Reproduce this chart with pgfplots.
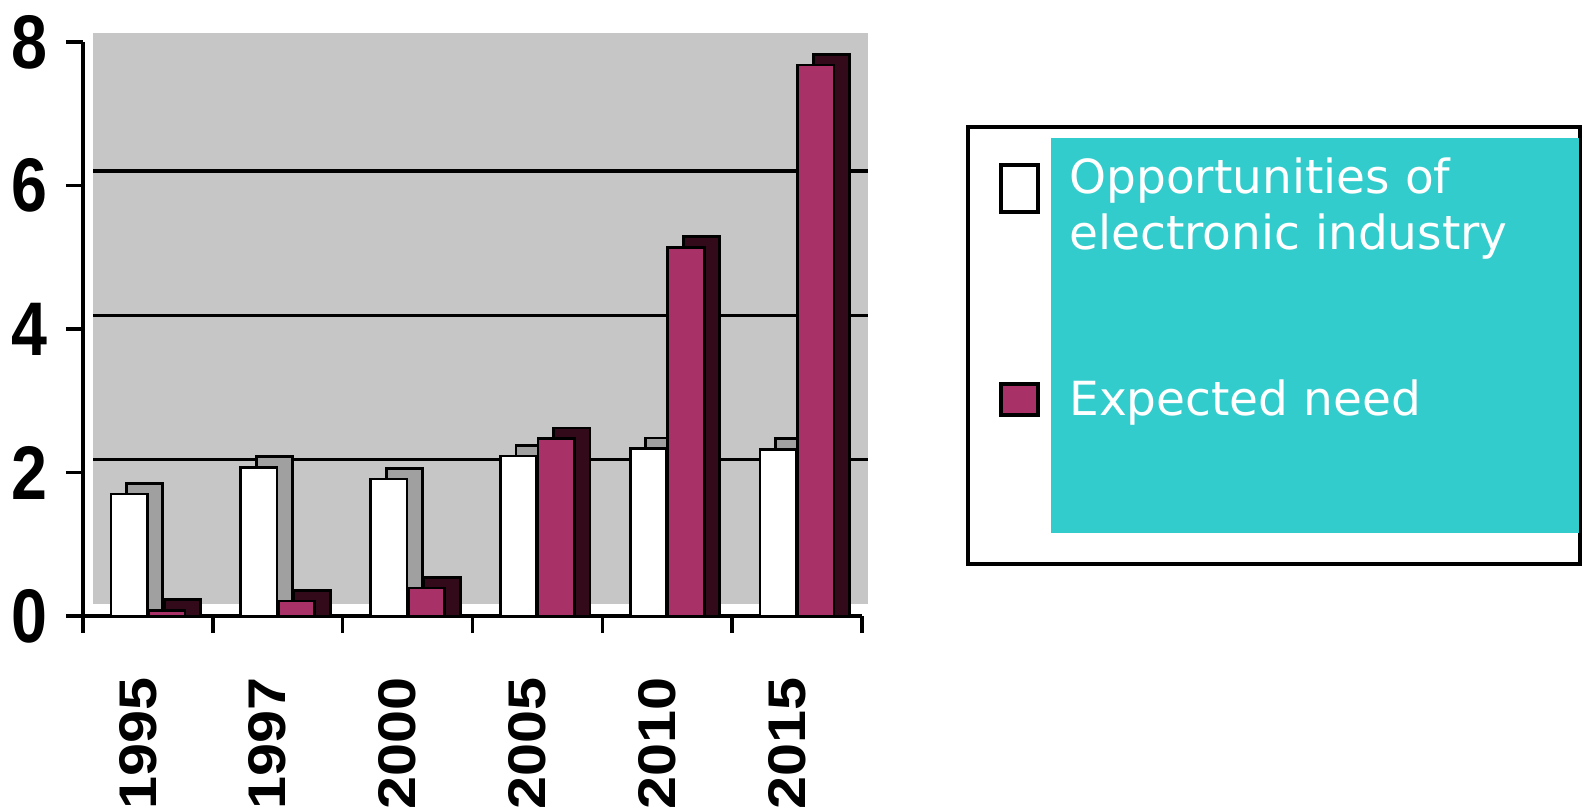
\documentclass[border=0pt]{standalone}
\usepackage{fontspec}
\setmainfont{Liberation Sans}
\newfontfamily\legfont{DejaVu Sans}
\usepackage{graphicx}
\usepackage{pgfplots}
\pgfplotsset{compat=1.18}
\usepackage{pgfplotstable}
\definecolor{wallgray}{RGB}{198,198,198}
\definecolor{maroonF}{RGB}{168,50,104}
\definecolor{maroonS}{RGB}{50,10,25}
\definecolor{whiteS}{RGB}{160,160,160}
\definecolor{cyanbox}{RGB}{51,204,204}

\pgfplotstableread{
x white maroon
0 1.70 0.08
1 2.07 0.21
2 1.91 0.39
3 2.23 2.47
4 2.33 5.14
5 2.32 7.68
}\datatable

\begin{document}
\begin{tikzpicture}
\useasboundingbox (0,0) rectangle (792.5pt,405pt);
\begin{axis}[
  at={(41.5pt,97pt)}, anchor=south west,
  scale only axis, width=389.5pt, height=287pt,
  xmin=-0.5, xmax=5.5, ymin=0, ymax=8, clip=false,
  axis x line*=bottom, axis y line*=left,
  axis line style={line width=1.7pt},
  tick style={black, line width=1.7pt},
  tick align=outside,
  major tick length=8.5pt, minor tick length=8.5pt,
  ytick={0,2,4,6,8},
  xtick={0,...,5},
  minor xtick={-0.5,0.5,...,5.5},
  major x tick style={draw=none},
  xticklabels={\scalebox{1.12}[1]{1995},\scalebox{1.12}[1]{1997},\scalebox{1.12}[1]{2000},\scalebox{1.12}[1]{2005},\scalebox{1.12}[1]{2010},\scalebox{1.12}[1]{2015}},
  xticklabel style={font=\fontsize{26.5}{28}\selectfont\bfseries, xshift=-5pt, rotate=90, anchor=east},
  xticklabel shift=18.5pt,
  /pgf/number format/assume math mode=true,
  yticklabel={\scalebox{0.85}[1]{\pgfmathprintnumber{\tick}}},
  yticklabel style={font=\fontsize{38}{40}\selectfont\bfseries, anchor=east},
  yticklabel shift=6pt,
]
\fill[wallgray] (axis cs:-0.42,0.17) rectangle (axis cs:5.55,8.13);
\addplot[black, line width=1.8pt, forget plot] coordinates {(-0.42,2.18) (5.55,2.18)};
\addplot[black, line width=1.8pt, forget plot] coordinates {(-0.42,4.19) (5.55,4.19)};
\addplot[black, line width=1.8pt, forget plot] coordinates {(-0.42,6.20) (5.55,6.20)};
% white series: side/top (depth) then front
\addplot[ybar, bar width=0.28, bar shift=-0.025, fill=whiteS, draw=black, line width=1.4pt, forget plot]
  table[x=x, y expr=\thisrow{white}+0.15] {\datatable};
\addplot[ybar, bar width=0.28, bar shift=-0.145, fill=white, draw=black, line width=1.4pt]
  table[x=x, y=white] {\datatable};
% maroon series: side/top (depth) then front
\addplot[ybar, bar width=0.28, bar shift=0.265, fill=maroonS, draw=black, line width=1.4pt, forget plot]
  table[x=x, y expr=\thisrow{maroon}+0.15] {\datatable};
\addplot[ybar, bar width=0.28, bar shift=0.145, fill=maroonF, draw=black, line width=1.4pt]
  table[x=x, y=maroon] {\datatable};
\end{axis}
\begin{scope}[shift={(0,405pt)}, x=0.5pt, y=-0.5pt]
\draw[line width=2pt, fill=white] (968,127) rectangle (1580,564);
\fill[cyanbox] (1051,138) rectangle (1579,533);
\draw[line width=1.6pt, fill=white] (1001,165) rectangle (1038,212);
\draw[line width=1.6pt, fill=maroonF] (1001,384) rectangle (1038,415);
\node[anchor=base west, inner sep=0, text=white, font=\legfont\fontsize{23.5}{27}\selectfont] at (1069,194) {Opportunities of};
\node[anchor=base west, inner sep=0, text=white, font=\legfont\fontsize{23.5}{27}\selectfont] at (1069,250) {electronic industry};
\node[anchor=base west, inner sep=0, text=white, font=\legfont\fontsize{23.5}{27}\selectfont] at (1069,415) {Expected need};
\end{scope}
\end{tikzpicture}
\end{document}
